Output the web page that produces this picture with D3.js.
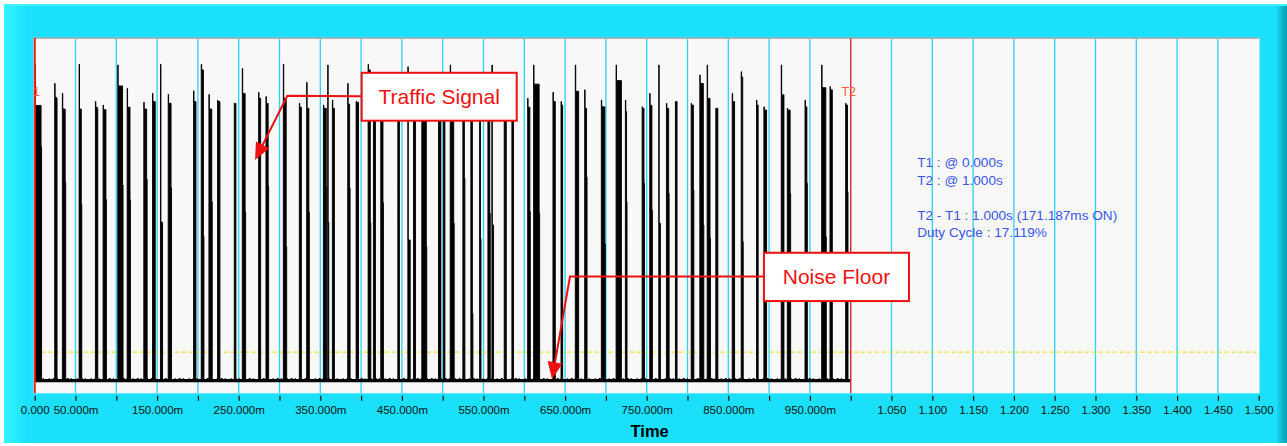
<!DOCTYPE html>
<html><head><meta charset="utf-8">
<script src="https://cdn.jsdelivr.net/npm/d3@7"></script>
<style>
body{margin:0;background:#fff;}
svg{display:block;font-family:"Liberation Sans",Arial,sans-serif;}
</style>
</head><body>
<svg id="c" width="1287" height="446"></svg>
<script>
// ---- data (time in ms, level in relative units 0..100) ----
const pulseStart = [0.4, 24.5, 33.9, 54.4, 74.4, 83.8, 101.8, 113.3, 133.7, 144.4, 154.2, 163.6, 194.7, 204.1, 213.5, 224.1, 244.6, 254.4, 274.4, 283.4, 304.7, 324.3, 333.3, 353.8, 359.1, 364.8, 383.6, 393.9, 408.6, 415.1, 424.1, 445.0, 457.3, 464.2, 474.4, 494.9,
  501.0, 509.2, 524.7, 534.5, 545.2, 555.4, 560.3, 575.4, 584.8, 604.1, 611.4, 635.1, 645.0, 662.5, 674.0, 694.4, 712.5, 723.9, 744.4, 753.7, 764.8, 774.2, 785.2, 804.5, 815.1, 824.1, 834.7, 854.8, 865.8, 884.6, 893.6, 914.9, 922.3, 944.0, 964.4, 974.6, 993.8];
const pulseWidth = [8.0, 2.9, 4.1, 3.3, 2.9, 4.1, 6.5, 4.1, 4.1, 3.3, 2.5, 4.1, 2.9, 3.3, 4.1, 2.9, 2.0, 4.1, 2.5, 3.3, 4.1, 2.5, 3.3, 4.1, 1.3, 2.5, 2.9, 2.9, 3.3, 2.5, 3.3, 2.0, 2.9, 2.5, 6.1, 2.9,
  1.7, 4.9, 2.5, 2.5, 1.7, 2.9, 2.0, 2.5, 2.0, 3.3, 7.4, 2.9, 2.0, 4.1, 2.9, 4.9, 6.5, 2.0, 2.9, 3.3, 2.0, 3.3, 2.0, 3.3, 4.9, 4.1, 2.5, 2.9, 2.5, 2.0, 3.3, 3.3, 4.1, 2.9, 5.7, 2.9, 2.9];
const pulsePeak = [92.6, 87.2, 84.4, 92.6, 82.1, 81.1, 92.4, 85.8, 81.9, 84.4, 92.6, 84.1, 85.1, 92.6, 84.1, 82.5, 81.6, 91.4, 84.7, 83.5, 92.6, 81.6, 87.5, 81.1, 92.4, 82.5, 87.2, 82.1, 92.6, 85.0, 88.0, 84.0, 91.9, 88.0, 90.0, 86.0,
  87.0, 92.4, 86.0, 85.0, 84.0, 88.0, 92.4, 84.0, 83.0, 83.0, 92.4, 84.7, 82.1, 92.4, 85.4, 82.5, 92.4, 82.5, 80.6, 84.4, 92.4, 81.6, 82.1, 81.6, 89.6, 92.4, 80.2, 84.4, 90.5, 82.5, 80.6, 92.4, 80.2, 82.5, 92.4, 86.3, 81.6];
const pulseBody = [81.0, 83.3, 80.0, 80.0, 80.5, 79.8, 86.5, 80.5, 80.0, 82.1, 48.1, 81.6, 82.1, 91.0, 80.0, 82.1, 81.6, 84.4, 83.0, 81.6, 83.0, 80.5, 80.2, 80.2, 48.1, 80.2, 81.4, 81.9, 91.0, 82.0, 80.0, 82.0, 43.1, 85.0, 85.0, 82.0,
  85.0, 84.0, 82.0, 82.0, 82.0, 83.0, 47.3, 82.0, 81.0, 80.5, 87.0, 82.1, 81.1, 85.0, 80.2, 80.6, 88.0, 79.3, 80.2, 81.0, 47.8, 80.2, 82.1, 81.1, 87.2, 83.0, 80.2, 82.1, 89.0, 81.1, 79.7, 84.0, 79.7, 80.6, 86.0, 85.4, 81.1];
const pulseTail = [69.4, 83.0, 59.3, 53.1, 80.0, 54.5, 58.6, 54.4, 60.2, 82.1, 48.1, 57.8, 82.1, 44.1, 53.9, 82.1, 81.6, 51.0, 83.0, 58.3, 41.2, 80.5, 50.9, 58.1, 48.1, 80.2, 57.8, 81.9, 48.1, 82.0, 53.6, 82.0, 43.1, 85.0, 41.2, 82.0,
  85.0, 47.8, 60.5, 22.4, 43.6, 50.6, 47.3, 82.0, 81.0, 51.1, 50.6, 82.1, 81.1, 85.0, 60.9, 42.0, 88.0, 53.9, 59.1, 51.5, 47.8, 56.2, 82.1, 57.2, 47.3, 43.6, 80.2, 82.1, 42.6, 81.1, 79.7, 84.0, 56.2, 59.1, 44.0, 85.4, 56.7];
const noiseFloor = 3.5;
const thresholdLevel = 11.5;
const cursorT1 = 0.0, cursorT2 = 1.0;
const tickValues = [0, 0.05, 0.1, 0.15, 0.2, 0.25, 0.3, 0.35, 0.4, 0.45, 0.5, 0.55, 0.6, 0.65, 0.7, 0.75, 0.8, 0.85, 0.9, 0.95, 1.0,
  1.05, 1.1, 1.15, 1.2, 1.25, 1.3, 1.35, 1.4, 1.45, 1.5];
const tickLabels = ["0.000", "50.000m", "", "150.000m", "", "250.000m", "", "350.000m", "", "450.000m", "", "550.000m", "", "650.000m", "", "750.000m", "", "850.000m", "", "950.000m", "",
  "1.050", "1.100", "1.150", "1.200", "1.250", "1.300", "1.350", "1.400", "1.450", "1.500"];
const infoLines = ["T1 : @ 0.000s", "T2 : @ 1.000s", "", "T2 - T1 : 1.000s (171.187ms ON)", "Duty Cycle : 17.119%"];
const xAxisTitle = "Time";
const annotations = [
  {text: "Traffic Signal", box: [0.4007, 0.5907, 90.2, 76.7], elbow: [0.3096, 83.7], tip: [0.270, 65.6]},
  {text: "Noise Floor", box: [0.8937, 1.0714, 39.5, 25.9], elbow: [0.656, 32.8], tip: [0.634, 3.9]}
];

// ---- drawing ----
const W = 1287, H = 446;
const svg = d3.select("#c");
const plot = {left: 33.5, right: 1259.5, top: 37.7, bottom: 393.3};
const x = d3.scaleLinear().domain([0, 1.5]).range([34.7, 1258.7]);
const y = d3.scaleLinear().domain([0, 100]).range([393, 38]);

const defs = svg.append("defs");
const gl = defs.append("linearGradient").attr("id", "lband").attr("x1", 0).attr("x2", 1).attr("y1", 0).attr("y2", 0);
gl.append("stop").attr("offset", 0).attr("stop-color", "#34f4ff");
gl.append("stop").attr("offset", 1).attr("stop-color", "#1ae0fc");
const gr = defs.append("linearGradient").attr("id", "rband").attr("x1", 0).attr("x2", 1).attr("y1", 0).attr("y2", 0);
gr.append("stop").attr("offset", 0).attr("stop-color", "#18d6f0");
gr.append("stop").attr("offset", 1).attr("stop-color", "#0a9cb4");
defs.append("clipPath").attr("id", "pclip").append("rect")
  .attr("x", plot.left).attr("y", plot.top).attr("width", plot.right - plot.left).attr("height", plot.bottom - plot.top);

// frame
svg.append("rect").attr("x", 4).attr("y", 4).attr("width", W - 4).attr("height", H - 7).attr("fill", "#1ae0fc");
svg.append("rect").attr("x", 4).attr("y", 4).attr("width", 24).attr("height", H - 7).attr("fill", "url(#lband)");
svg.append("rect").attr("x", 4).attr("y", 4).attr("width", W - 4).attr("height", 2).attr("fill", "#40f2ff");
svg.append("rect").attr("x", W - 10).attr("y", 6).attr("width", 10).attr("height", H - 9).attr("fill", "url(#rband)");

// plot background
svg.append("rect").attr("x", plot.left).attr("y", plot.top).attr("width", plot.right - plot.left)
  .attr("height", plot.bottom - plot.top).attr("fill", "#f8f8f8");
svg.append("line").attr("x1", plot.left).attr("x2", plot.right).attr("y1", plot.top + 0.5).attr("y2", plot.top + 0.5)
  .attr("stroke", "#9a9a9a").attr("stroke-width", 1.2);

// grid
svg.append("g").selectAll("line").data(tickValues.filter(t => t > 0 && t < 1.5)).join("line")
  .attr("x1", d => x(d)).attr("x2", d => x(d)).attr("y1", plot.top + 1).attr("y2", plot.bottom)
  .attr("stroke", "#28d4f4").attr("stroke-width", 1.3);

// axis
const axis = d3.axisBottom(x).tickValues(tickValues).tickSize(5).tickPadding(5)
  .tickFormat((d, i) => tickLabels[i]);
const ax = svg.append("g").attr("transform", `translate(0,${plot.bottom + 2.5})`).call(axis);
ax.select(".domain").remove();
ax.selectAll(".tick line").attr("stroke", "#111").attr("stroke-width", 1.2);
ax.selectAll(".tick text").attr("fill", "#111").attr("font-size", "11.5px")
  .attr("font-family", '"Liberation Sans",Arial,sans-serif');

svg.append("text").attr("x", (x(0) + x(1.5)) / 2 + 3).attr("y", 437).attr("text-anchor", "middle")
  .attr("font-size", "16.5px").attr("font-weight", "bold").attr("fill", "#000").text(xAxisTitle);

const pg = svg.append("g").attr("clip-path", "url(#pclip)");

// threshold line
pg.append("line").attr("x1", x(0)).attr("x2", x(1.5)).attr("y1", y(thresholdLevel)).attr("y2", y(thresholdLevel))
  .attr("stroke", "#e6e22a").attr("stroke-width", 1.3).attr("stroke-dasharray", "4,3");

// signal
const pts = [[0, noiseFloor]];
pulseStart.forEach((s, i) => {
  const t0 = s / 1000, w = pulseWidth[i] / 1000;
  pts.push([t0, noiseFloor]);
  pts.push([t0, pulsePeak[i]]);
  pts.push([t0 + 0.0005, pulseBody[i]]);
  pts.push([t0 + w - 0.0006, pulseTail[i]]);
  pts.push([t0 + w, noiseFloor]);
});
pts.push([cursorT2, noiseFloor]);
const area = d3.area().curve(d3.curveStepAfter).x(d => x(d[0])).y0(y(noiseFloor)).y1(d => y(d[1]));
pg.append("path").datum(pts).attr("d", area).attr("fill", "#000").attr("stroke", "#000").attr("stroke-width", 0.9);
// noise floor band
pg.append("line").attr("x1", x(0)).attr("x2", x(cursorT2)).attr("y1", y(noiseFloor)).attr("y2", y(noiseFloor))
  .attr("stroke", "#000").attr("stroke-width", 3.2);
pg.append("line").attr("x1", x(0)).attr("x2", x(cursorT2)).attr("y1", y(noiseFloor) - 2).attr("y2", y(noiseFloor) - 2)
  .attr("stroke", "#000").attr("stroke-width", 1).attr("stroke-dasharray", "1,3,2,2,1,5");

// cursors
pg.append("line").attr("x1", x(cursorT1)).attr("x2", x(cursorT1)).attr("y1", plot.top).attr("y2", plot.bottom)
  .attr("stroke", "#ee2020").attr("stroke-width", 2.2);
pg.append("line").attr("x1", x(cursorT2)).attr("x2", x(cursorT2)).attr("y1", plot.top).attr("y2", plot.bottom)
  .attr("stroke", "#ff2020").attr("stroke-width", 1.3);
pg.append("text").attr("x", x(cursorT1) - 2).attr("y", y(83.7)).attr("text-anchor", "middle")
  .attr("font-size", "12.5px").attr("fill", "#ff5a3a").text("T1");
pg.append("text").attr("x", x(cursorT2) - 2).attr("y", y(83.7)).attr("text-anchor", "middle")
  .attr("font-size", "12.5px").attr("fill", "#ff5a3a").text("T2");

// info text
const info = svg.append("g").attr("font-size", "13.6px").attr("fill", "#3a55ea");
infoLines.forEach((s, i) => {
  if (s) info.append("text").attr("x", x(1.0815)).attr("y", y(63.7) + i * 17.65).text(s);
});

// annotations
annotations.forEach(a => {
  const [t1, t2, v1, v2] = a.box;
  const ex = x(a.elbow[0]), ey = y(a.elbow[1]), tx = x(a.tip[0]), ty = y(a.tip[1]);
  const dx = tx - ex, dy = ty - ey, L = Math.hypot(dx, dy), ux = dx / L, uy = dy / L;
  const hl = 17, hw = 7.5;
  const bx = tx - ux * hl, by = ty - uy * hl;
  svg.append("polyline")
    .attr("points", [[x(t1), (y(v1) + y(v2)) / 2 - 0.5], [ex, ey], [bx + ux * 2, by + uy * 2]].map(p => p.join(",")).join(" "))
    .attr("fill", "none").attr("stroke", "#ee1111").attr("stroke-width", 2);
  svg.append("polygon")
    .attr("points", [[tx, ty], [bx - uy * hw, by + ux * hw], [bx + uy * hw, by - ux * hw]].map(p => p.join(",")).join(" "))
    .attr("fill", "#ee1111");
  svg.append("rect").attr("x", x(t1)).attr("y", y(v1)).attr("width", x(t2) - x(t1)).attr("height", y(v2) - y(v1))
    .attr("fill", "#fff").attr("stroke", "#ee1111").attr("stroke-width", 2);
  svg.append("text").attr("x", (x(t1) + x(t2)) / 2).attr("y", (y(v1) + y(v2)) / 2 + 7.5).attr("text-anchor", "middle")
    .attr("font-size", "21px").attr("fill", "#ee1111").text(a.text);
});
</script>
</body></html>
